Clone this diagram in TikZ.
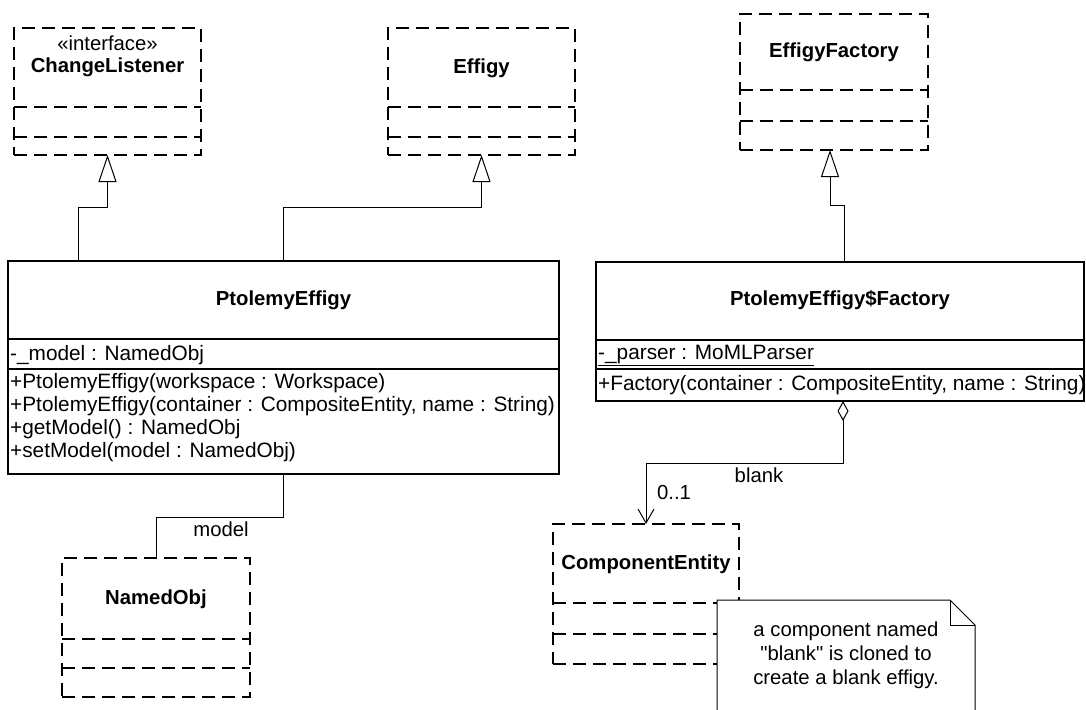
\documentclass[tikz,border=0pt]{standalone}
\usepackage{fontspec}
\setmainfont{Liberation Sans}
\newfontfamily\plainquotefont{Liberation Sans}[Ligatures=ResetAll]
\newcommand{\sq}{{\plainquotefont\symbol{34}}}
\usetikzlibrary{arrows.meta,calc}
\begin{document}
\begin{tikzpicture}[x=1pt,y=-1pt,
  box/.style={draw, line width=2pt, inner sep=0pt, outer sep=0pt, anchor=north west},
  dbox/.style={box, dash pattern=on 13pt off 7pt},
  sepline/.style={line width=2pt},
  dsepline/.style={line width=2pt, dash pattern=on 13pt off 7pt},
  title/.style={font=\fontsize{20.3}{24}\selectfont\bfseries, inner sep=0pt},
  txt/.style={font=\fontsize{20.8}{24}\selectfont, inner sep=0pt, anchor=west},
  lbl/.style={font=\fontsize{20.3}{24}\selectfont, inner sep=0pt},
  conn/.style={line width=1pt},
  gen/.style={conn, -{Triangle[open, length=27pt, width=18pt]}},
  agg/.style={conn, {Diamond[open, length=20pt, width=11pt]}-{Straight Barb[length=14pt, width=16pt]}}
]
\useasboundingbox (0,0) rectangle (1086,709);

% ---- ChangeListener
\node[dbox, minimum width=187pt, minimum height=127pt] (cl) at (14,28) {};
\draw[dsepline] (cl.west |- 0,107) -- (cl.east |- 0,107);
\draw[dsepline] (cl.west |- 0,137) -- (cl.east |- 0,137);
\node[lbl] (clst) at (107.5,43) {«interface»};
\node[title] (clt) at (107.5,67) {ChangeListener};

% ---- Effigy
\node[dbox, minimum width=187pt, minimum height=127pt] (eg) at (388,28) {};
\draw[dsepline] (eg.west |- 0,107) -- (eg.east |- 0,107);
\draw[dsepline] (eg.west |- 0,137) -- (eg.east |- 0,137);
\node[title] (egt) at (481.5,68) {Effigy};

% ---- EffigyFactory
\node[dbox, minimum width=188pt, minimum height=136pt] (ef) at (740,14) {};
\draw[dsepline] (ef.west |- 0,90) -- (ef.east |- 0,90);
\draw[dsepline] (ef.west |- 0,121) -- (ef.east |- 0,121);
\node[title] (eft) at (834,52) {EffigyFactory};

% ---- PtolemyEffigy
\node[box, minimum width=551pt, minimum height=213pt] (pe) at (8,261) {};
\draw[sepline] (pe.west |- 0,339) -- (pe.east |- 0,339);
\draw[sepline] (pe.west |- 0,369) -- (pe.east |- 0,369);
\node[title] (pet) at (283.5,300) {PtolemyEffigy};
\node[txt] (pea) at (10,355) {-\_model : NamedObj};
\node[txt] (peo1) at (10,383) {+PtolemyEffigy(workspace : Workspace)};
\node[txt] (peo2) at (10,406) {+PtolemyEffigy(container : CompositeEntity, name : String)};
\node[txt] (peo3) at (10,429) {+getModel() : NamedObj};
\node[txt] (peo4) at (10,452) {+setModel(model : NamedObj)};

% ---- PtolemyEffigy$Factory
\node[box, minimum width=488pt, minimum height=139pt] (pf) at (596,262) {};
\draw[sepline] (pf.west |- 0,340) -- (pf.east |- 0,340);
\draw[sepline] (pf.west |- 0,369) -- (pf.east |- 0,369);
\node[title] (pft) at (840,300) {PtolemyEffigy\$Factory};
\node[txt] (pfa) at (598,355) {\underline{-\_parser : MoMLParser}};
\node[txt] (pfo) at (598,385) {+Factory(container : CompositeEntity, name : String)};

% ---- NamedObj
\node[dbox, minimum width=188pt, minimum height=139pt] (no) at (62,558) {};
\draw[dsepline] (no.west |- 0,639) -- (no.east |- 0,639);
\draw[dsepline] (no.west |- 0,668) -- (no.east |- 0,668);
\node[title] (not) at (156,599) {NamedObj};

% ---- ComponentEntity
\node[dbox, minimum width=186pt, minimum height=140pt] (ce) at (553,524) {};
\draw[dsepline] (ce.west |- 0,603) -- (ce.east |- 0,603);
\draw[dsepline] (ce.west |- 0,634) -- (ce.east |- 0,634);
\node[title] (cet) at (646,564) {ComponentEntity};

% ---- note
\coordinate (nTL) at (717,600);
\coordinate (nF) at (950,600);
\coordinate (nR) at (975,625);
\coordinate (nBR) at (975,712);
\coordinate (nBL) at (717,712);
\draw[conn, fill=white] (nTL) -- (nF) -- (nR) -- (nBR) -- (nBL) -- cycle;
\draw[conn] (nF) -- (nF |- nR) -- (nR);
\node[lbl, align=center] (note) at (846,655) {a component named\\\sq blank\sq{} is cloned to\\create a blank effigy.};

% ---- connectors
\draw[gen] ([xshift=70pt]pe.north west) -- ++(0,-54) -| (cl.south);
\draw[gen] (pe.north) -- ++(0,-54) -| (eg.south);
\draw[gen] ([xshift=4pt]pf.north) -- ++(0,-57) -| ([xshift=-4pt]ef.south);
\draw[agg] ([xshift=3pt]pf.south) -- ++(0,62) -| (ce.north);
\draw[conn] (pe.south) -- ++(0,43) -| (no.north);

% ---- connector labels
\node[lbl] (lblank) at (759,475) {blank};
\node[lbl] (lmult) at (674,493) {0..1};
\node[lbl] (lmodel) at (221,529) {model};
\end{tikzpicture}
\end{document}
